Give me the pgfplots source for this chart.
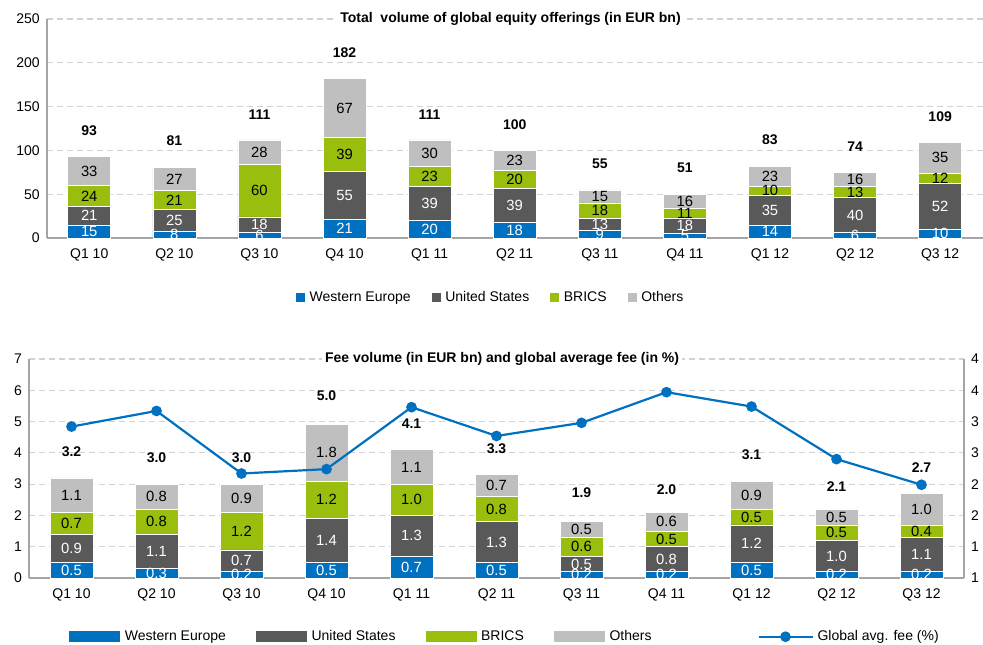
\documentclass[border=0pt]{standalone}
\usepackage{fontspec}
\setmainfont{Liberation Sans}
\usepackage{pgfplots}
\usepackage{pgfplotstable}
\pgfplotsset{compat=1.18}
\definecolor{cWE}{RGB}{0,112,192}
\definecolor{cUS}{RGB}{89,89,89}
\definecolor{cBR}{RGB}{153,190,14}
\definecolor{cOT}{RGB}{191,191,191}
\definecolor{cAx}{RGB}{165,165,165}
\definecolor{cGr}{RGB}{210,210,210}

\pgfplotstableread{
x we us br ot tot
0 15 21 24 33 93
1 8 25 21 27 81
2 6 18 60 28 111
3 21 55 39 67 182
4 20 39 23 30 111
5 18 39 20 23 100
6 9 13 18 15 55
7 5 18 11 16 51
8 14 35 10 23 83
9 6 40 13 16 74
10 10 52 12 35 109
}\topdata

\pgfplotstableread{
x we us br ot tot
0 0.5 0.9 0.7 1.1 3.2
1 0.3 1.1 0.8 0.8 3.0
2 0.2 0.7 1.2 0.9 3.0
3 0.5 1.4 1.2 1.8 5.0
4 0.7 1.3 1.0 1.1 4.1
5 0.5 1.3 0.8 0.7 3.3
6 0.2 0.5 0.6 0.5 1.9
7 0.2 0.8 0.5 0.6 2.0
8 0.5 1.2 0.5 0.9 3.1
9 0.2 1.0 0.5 0.5 2.1
10 0.2 1.1 0.4 1.0 2.7
}\feedata

\pgfplotstableread{
x fee
0 3.42
1 3.67
2 2.67
3 2.74
4 3.73
5 3.27
6 3.48
7 3.97
8 3.74
9 2.90
10 2.49
}\feeline

\newcommand{\fs}{\fontsize{7}{8.4}\selectfont}
\newcommand{\fsl}{\fontsize{7.4}{8.8}\selectfont}

\pgfplotsset{
  basebar/.style={
    scale only axis, height=109.5pt,
    ybar stacked, bar width=21.5pt,
    xmin=-0.5, xmax=10.5, xtick={0,...,10},
    xticklabels={Q1 10,Q2 10,Q3 10,Q4 10,Q1 11,Q2 11,Q3 11,Q4 11,Q1 12,Q2 12,Q3 12},
    xticklabel style={yshift=-2pt},
    axis x line*=bottom, axis y line*=left,
    axis line style={cAx, line width=1pt},
    tick style={draw=none},
    ymajorgrids, grid style={cGr, dash pattern=on 3pt off 2pt, line width=0.6pt},
    tick label style={font=\fs},
    /pgf/number format/assume math mode=true,
    nodes near coords, point meta=explicit,
    every node near coord/.append style={font=\fsl, inner sep=0pt},
    legend style={draw=none, fill=none, font=\fs, legend cell align=left, inner sep=0pt},
    clip=false,
  },
  weP/.style={fill=cWE, draw=white, line width=0.3pt,
    every node near coord/.append style={text=white}},
  usP/.style={fill=cUS, draw=white, line width=0.3pt,
    every node near coord/.append style={text=white}},
  brP/.style={fill=cBR, draw=white, line width=0.3pt,
    every node near coord/.append style={text=black}},
  otP/.style={fill=cOT, draw=white, line width=0.3pt,
    every node near coord/.append style={text=black}},
  totaxis/.style={scale only axis, height=109.5pt,
    xmin=-0.5, xmax=10.5, axis lines=none, clip=false,
    /pgf/number format/assume math mode=true,
    nodes near coords, point meta=explicit,
    every node near coord/.append style={anchor=center, yshift=13pt, text=black, font=\fs\bfseries},
  },
}

\begin{document}
\begin{tikzpicture}
\useasboundingbox (0,0) rectangle (491.5pt,322pt);

% ---------- top chart ----------
\begin{axis}[basebar, width=468pt, at={(23.35pt,203pt)}, anchor=south west,
  ymin=0, ymax=250, ytick={0,50,...,250},
  legend style={at={(0.265,-0.273)}, anchor=west,
    /tikz/every even column/.append style={column sep=8pt}},
  legend image code/.code={\fill[#1] (0pt,-2.5pt) rectangle (5pt,2.5pt);},
  legend columns=4,
  nodes near coords={\pgfmathprintnumber[fixed,precision=0]{\pgfplotspointmeta}},
]
\addplot[weP] table[x=x,y=we,meta=we] {\topdata};
\addlegendentry{Western Europe}
\addplot[usP] table[x=x,y=us,meta=us] {\topdata};
\addlegendentry{United States}
\addplot[brP] table[x=x,y=br,meta=br] {\topdata};
\addlegendentry{BRICS}
\addplot[otP] table[x=x,y=ot,meta=ot] {\topdata};
\addlegendentry{Others}
\node[fill=white, font=\fs\bfseries, inner sep=1.5pt] at (rel axis cs:0.4955,1) {Total\ \ volume of global equity offerings (in EUR bn)};
\end{axis}
\begin{axis}[totaxis, width=468pt, at={(23.35pt,203pt)}, anchor=south west,
  ymin=0, ymax=250,
  nodes near coords={\pgfmathprintnumber[fixed,precision=0]{\pgfplotspointmeta}}]
\addplot[draw=none, mark=none] table[x=x,y=tot,meta=tot] {\topdata};
\end{axis}

% ---------- bottom chart ----------
\begin{axis}[basebar, width=467.5pt, at={(14.5pt,33pt)}, anchor=south west,
  ymin=0, ymax=7, ytick={0,1,...,7},
  legend style={at={(0.0417,-0.268)}, anchor=west,
    /tikz/every even column/.append style={column sep=12.5pt}},
  legend image code/.code={\fill[#1] (0pt,-3pt) rectangle (26pt,3pt);},
  legend columns=4,
  nodes near coords={\pgfmathprintnumber[fixed,fixed zerofill,precision=1]{\pgfplotspointmeta}},
]
\addplot[weP] table[x=x,y=we,meta=we] {\feedata};
\addlegendentry{Western Europe}
\addplot[usP] table[x=x,y=us,meta=us] {\feedata};
\addlegendentry{United States}
\addplot[brP] table[x=x,y=br,meta=br] {\feedata};
\addlegendentry{BRICS}
\addplot[otP] table[x=x,y=ot,meta=ot] {\feedata};
\addlegendentry{Others}
\node[fill=white, font=\fs\bfseries, inner sep=1.5pt] at (rel axis cs:0.506,1) {Fee volume (in EUR bn) and global average fee (in \%)};
\end{axis}
\begin{axis}[totaxis, width=467.5pt, at={(14.5pt,33pt)}, anchor=south west,
  ymin=0, ymax=7,
  nodes near coords={\pgfmathprintnumber[fixed,fixed zerofill,precision=1]{\pgfplotspointmeta}}]
\addplot[draw=none, mark=none] table[x=x,y=tot,meta=tot] {\feedata};
\end{axis}

\begin{axis}[scale only axis, width=467.5pt, height=109.5pt, at={(14.5pt,33pt)}, anchor=south west,
  xmin=-0.5, xmax=10.5, ymin=1, ymax=4.5,
  axis x line=none, axis y line*=right,
  axis line style={cAx, line width=1pt},
  tick style={draw=none},
  ytick={1,1.5,...,4.5}, yticklabels={1,1,2,2,3,3,4,4},
  tick label style={font=\fs},
  legend style={at={(0.7786,-0.268)}, anchor=west, draw=none, fill=none, font=\fs, inner sep=0pt},
  legend image code/.code={\draw[#1, mark repeat=2, mark phase=2] plot coordinates {(0pt,0pt)(13.5pt,0pt)(27pt,0pt)};},
]
\addplot[color=cWE, line width=1.1pt, mark=*, mark size=2.1pt] table[x=x,y=fee] {\feeline};
\addlegendentry{Global avg. fee (\%)}
\end{axis}
\end{tikzpicture}
\end{document}
